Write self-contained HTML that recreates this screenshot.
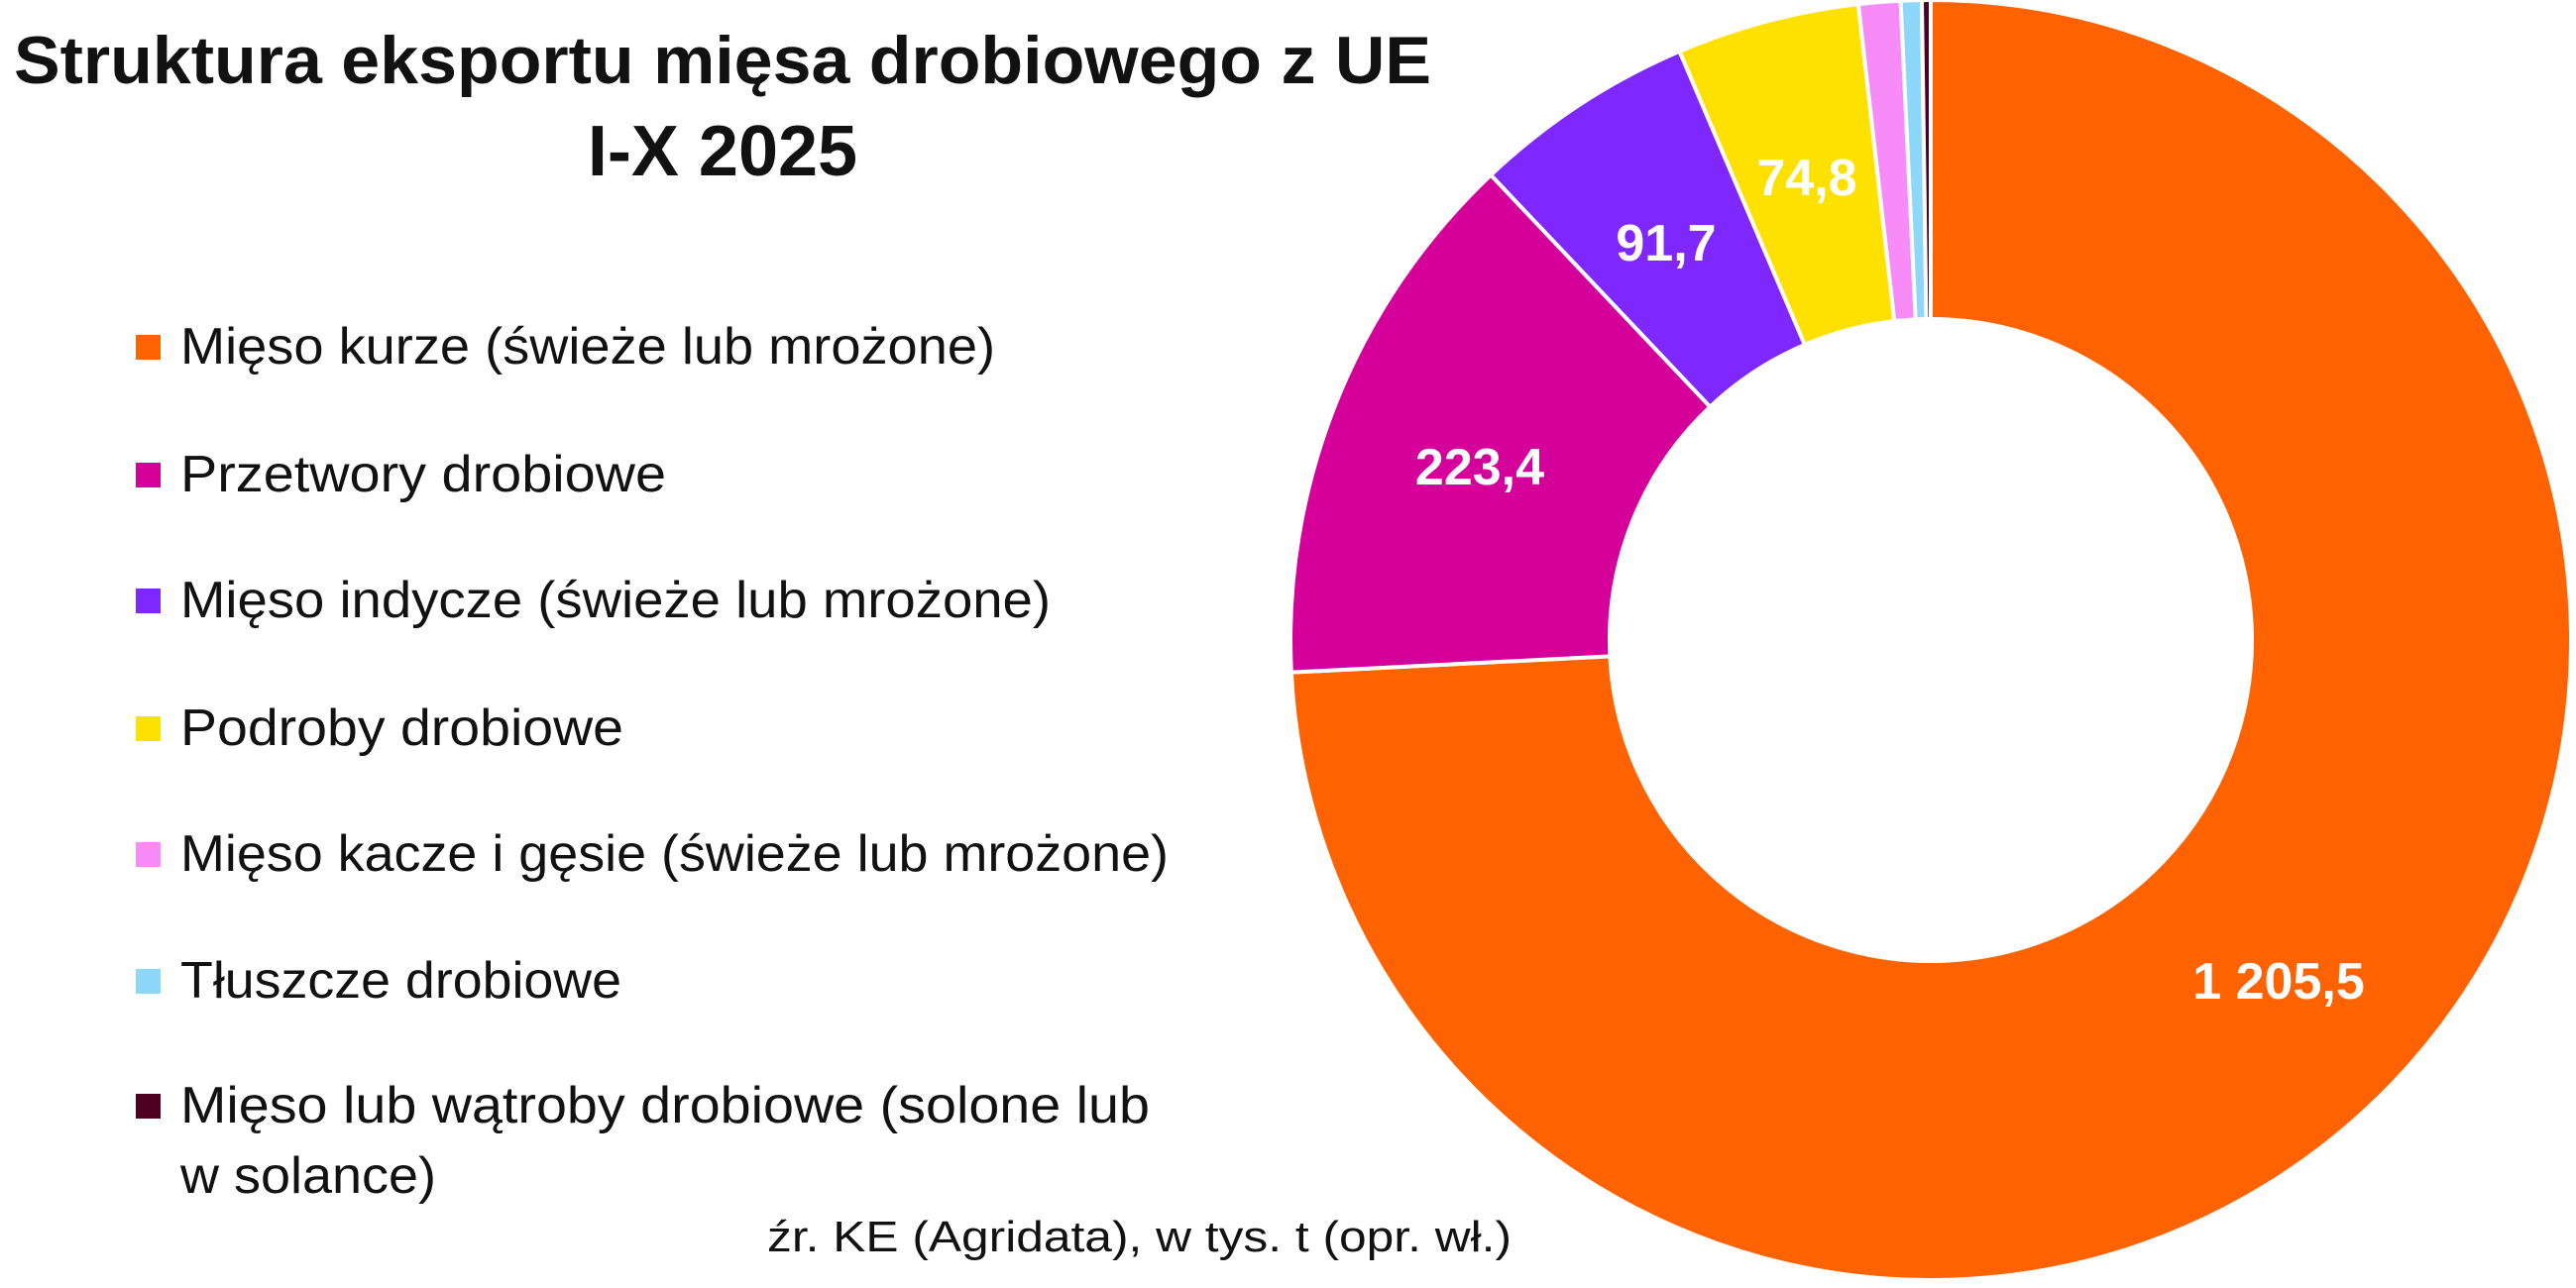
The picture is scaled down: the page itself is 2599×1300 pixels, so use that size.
<!DOCTYPE html>
<html><head><meta charset="utf-8"><style>
html,body{margin:0;padding:0;background:#fff;}
svg{display:block;}
text{font-family:"Liberation Sans","DejaVu Sans",sans-serif;}
</style></head><body>
<svg id="s" width="2599" height="1300" viewBox="0 0 2599 1300" xmlns="http://www.w3.org/2000/svg">
<text x="729" y="84" text-anchor="middle" font-size="68" font-weight="bold" fill="#111" textLength="1430" lengthAdjust="spacingAndGlyphs">Struktura eksportu mięsa drobiowego z UE</text>
<text x="729" y="177" text-anchor="middle" font-size="72" font-weight="bold" fill="#111">I-X 2025</text>
<g font-size="52" fill="#111">
<rect x="137" y="338" width="25" height="25" fill="#FF6200"/><text x="182" y="367" textLength="822" lengthAdjust="spacingAndGlyphs">Mięso kurze (świeże lub mrożone)</text>
<rect x="137" y="467" width="25" height="25" fill="#D40099"/><text x="182" y="496" textLength="490" lengthAdjust="spacingAndGlyphs">Przetwory drobiowe</text>
<rect x="137" y="594" width="25" height="25" fill="#7F27FF"/><text x="182" y="623" textLength="878" lengthAdjust="spacingAndGlyphs">Mięso indycze (świeże lub mrożone)</text>
<rect x="137" y="723" width="25" height="25" fill="#FFE100"/><text x="182" y="752" textLength="447" lengthAdjust="spacingAndGlyphs">Podroby drobiowe</text>
<rect x="137" y="850" width="25" height="25" fill="#F78BF8"/><text x="182" y="879" textLength="997" lengthAdjust="spacingAndGlyphs">Mięso kacze i gęsie (świeże lub mrożone)</text>
<rect x="137" y="978" width="25" height="25" fill="#8CD7FA"/><text x="182" y="1007" textLength="445" lengthAdjust="spacingAndGlyphs">Tłuszcze drobiowe</text>
<rect x="137" y="1104" width="25" height="25" fill="#4D0020"/><text x="182" y="1133" textLength="978" lengthAdjust="spacingAndGlyphs">Mięso lub wątroby drobiowe (solone lub</text>
<text x="182" y="1204" textLength="258" lengthAdjust="spacingAndGlyphs">w solance)</text>
</g>
<text x="774" y="1263" font-size="44" fill="#111" textLength="751" lengthAdjust="spacingAndGlyphs">źr. KE (Agridata), w tys. t (opr. wł.)</text>
<g id="pie"></g>
<g font-size="52" font-weight="bold" fill="#fff" text-anchor="middle">
<text x="2299" y="1008">1 205,5</text>
<text x="1493" y="489">223,4</text>
<text x="1681" y="263">91,7</text>
<text x="1823" y="197">74,8</text>
</g>
</svg>
<script>
var cx=1948,cy=646,R=646,r=324;
var a=[0,267.1,316.6,336.9,353.5,357.3,359.2,360];
var c=["#FF6200","#D40099","#7F27FF","#FFE100","#F78BF8","#8CD7FA","#4D0020"];
function p(rad,deg){var t=deg*Math.PI/180;return [cx+rad*Math.sin(t),cy-rad*Math.cos(t)];}
var g=document.getElementById("pie"),ns="http://www.w3.org/2000/svg";
for(var i=0;i<7;i++){
var s=a[i],e=a[i+1],lg=(e-s)>180?1:0;
var p1=p(R,s),p2=p(R,e),p3=p(r,e),p4=p(r,s);
var d="M"+p1+"A"+R+","+R+" 0 "+lg+" 1 "+p2+"L"+p3+"A"+r+","+r+" 0 "+lg+" 0 "+p4+"Z";
var el=document.createElementNS(ns,"path");
el.setAttribute("d",d);el.setAttribute("fill",c[i]);el.setAttribute("stroke","#fff");el.setAttribute("stroke-width","4");
g.appendChild(el);}
</script>
</body></html>
